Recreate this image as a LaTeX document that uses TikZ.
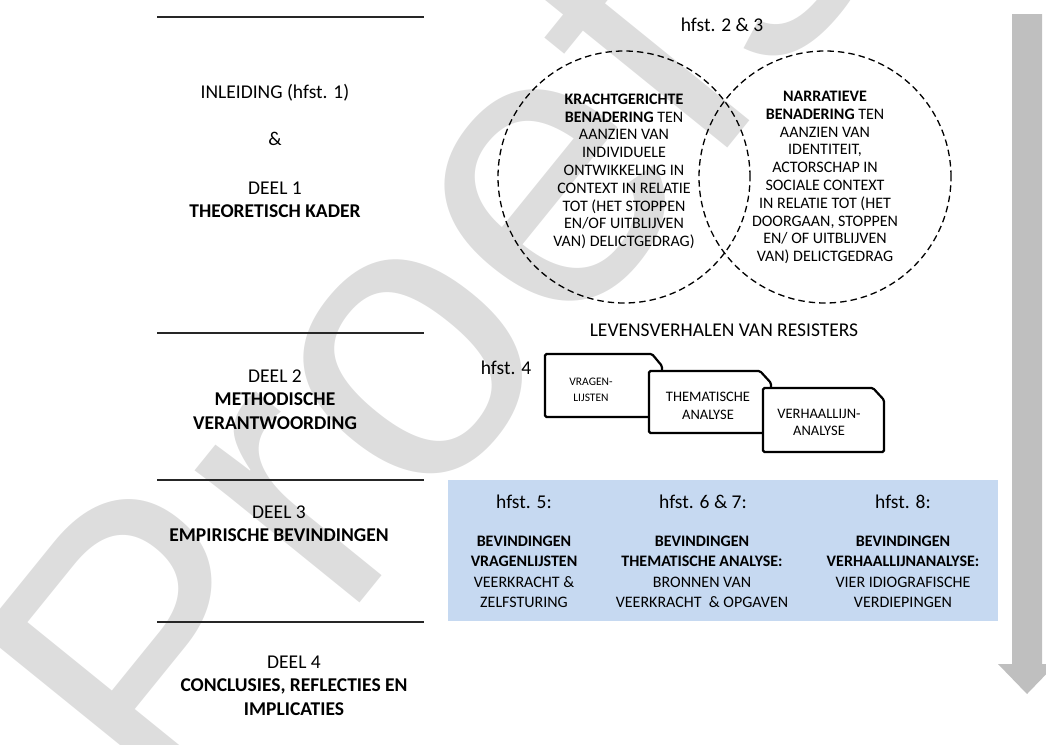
\documentclass[tikz,border=0pt]{standalone}
\usepackage{fontspec}
\setmainfont{Carlito}
\newfontfamily\wmfont{Liberation Sans}
\definecolor{wm}{RGB}{221,221,221}
\definecolor{bluebox}{RGB}{198,217,241}
\definecolor{arrowgray}{RGB}{191,191,191}
\begin{document}
\begin{tikzpicture}[x=1pt,y=-1pt,
  lbl/.style={inner sep=0, align=center, anchor=north, font=\fontsize{19.5}{23.3}\selectfont},
  hf/.style={inner sep=0, anchor=base, font=\fontsize{19.5}{23.3}\selectfont},
  ctext/.style={inner sep=0, align=center, anchor=north, font=\fontsize{16}{17.8}\selectfont},
  btext/.style={inner sep=0, align=center, anchor=north, font=\fontsize{16}{20.3}\selectfont},
  venn/.style={circle, draw, dash pattern=on 6.5pt off 4pt, line width=1.3pt, inner sep=0, minimum size=252pt},
  sepline/.style={line width=1.1pt, black!85},
  docbox/.style={draw, fill=white, line width=2.2pt, rounded corners=1.5pt},
]
\useasboundingbox (0,0) rectangle (1046,744);
% watermark
\begin{scope}
\clip (0,0) rectangle (1046,744);
\node[inner sep=0, anchor=base west, rotate=51, text=wm, font=\wmfont\fontsize{400}{400}\selectfont] (wmk) at (174,832) {Proefschrift};
\end{scope}

% left column separators
\draw[sepline] (157,17) -- (424,17);
\draw[sepline] (157,333) -- (424,333);
\draw[sepline] (157,480) -- (424,480);
\draw[sepline] (157,622) -- (424,622);

% left labels
\node[lbl] (inl) at (275,82) {\strut INLEIDING (hfst. 1)};
\node[lbl] (amp) at (275,129) {\strut \&};
\node[lbl] (d1) at (275,178) {\strut DEEL 1\\\textbf{THEORETISCH KADER}};
\node[lbl] (d2) at (275,366) {\strut DEEL 2\\\textbf{METHODISCHE}\\\textbf{VERANTWOORDING}};
\node[lbl] (d3) at (279,502) {\strut DEEL 3\\\textbf{EMPIRISCHE BEVINDINGEN}};
\node[lbl] (d4) at (294,652) {\strut DEEL 4\\\textbf{CONCLUSIES, REFLECTIES EN}\\\textbf{IMPLICATIES}};

% Venn circles
\node[hf] (h23) at (722,31.3) {hfst. 2 \& 3};
\node[venn] (c1) at (624,177) {};
\node[venn] (c2) at (825,177) {};
\node[ctext] (t1) at (624,91.7) {\strut\textbf{KRACHTGERICHTE}\\\textbf{BENADERING} TEN\\AANZIEN VAN\\INDIVIDUELE\\ONTWIKKELING IN\\CONTEXT IN RELATIE\\TOT (HET STOPPEN\\EN/OF UITBLIJVEN\\VAN) DELICTGEDRAG)};
\node[ctext] (t2) at (825,88.8) {\strut\textbf{NARRATIEVE}\\\textbf{BENADERING} TEN\\AANZIEN VAN\\IDENTITEIT,\\ACTORSCHAP IN\\SOCIALE CONTEXT\\IN RELATIE TOT (HET\\DOORGAAN, STOPPEN\\EN/ OF UITBLIJVEN\\VAN) DELICTGEDRAG};

% methods
\node[hf] (lev) at (724,336.3) {LEVENSVERHALEN VAN RESISTERS};
\node[hf] (h4) at (506,374) {hfst. 4};
\draw[docbox] (545,354) -- (652,354) -- (662,366) -- (662,417) -- (545,417) -- cycle;
\node[inner sep=0, align=center, font=\fontsize{11.5}{16}\selectfont] (vl) at (591,390) {VRAGEN-\\LIJSTEN};
\draw[docbox] (649,371) -- (760,371) -- (771,383) -- (771,433) -- (649,433) -- cycle;
\node[inner sep=0, align=center, font=\fontsize{14.5}{18}\selectfont] (ta) at (708,406) {THEMATISCHE\\ANALYSE};
\draw[docbox] (763,388) -- (873,388) -- (884,400) -- (884,452) -- (763,452) -- cycle;
\node[inner sep=0, align=center, font=\fontsize{14.5}{17}\selectfont] (va) at (819,422) {VERHAALLIJN-\\ANALYSE};

% empirical findings
\fill[bluebox] (448,480) rectangle (998,621);
\node[hf] (h5) at (524,508) {hfst. 5:};
\node[hf] (h67) at (703,508) {hfst. 6 \& 7:};
\node[hf] (h8) at (903,508) {hfst. 8:};
\node[btext] (b1) at (524,532) {\strut\textbf{BEVINDINGEN}\\\textbf{VRAGENLIJSTEN}\\VEERKRACHT \&\\ZELFSTURING};
\node[btext] (b2) at (702,532) {\strut\textbf{BEVINDINGEN}\\\textbf{THEMATISCHE ANALYSE:}\\BRONNEN VAN\\VEERKRACHT\ \ \& OPGAVEN};
\node[btext] (b3) at (903,532) {\strut\textbf{BEVINDINGEN}\\\textbf{VERHAALLIJNANALYSE:}\\VIER IDIOGRAFISCHE\\VERDIEPINGEN};

% timeline arrow
\fill[arrowgray] (1012,14) -- (1042,14) -- (1042,664) -- (1056,664) -- (1027,694) -- (998,664) -- (1012,664) -- cycle;
\end{tikzpicture}
\end{document}
